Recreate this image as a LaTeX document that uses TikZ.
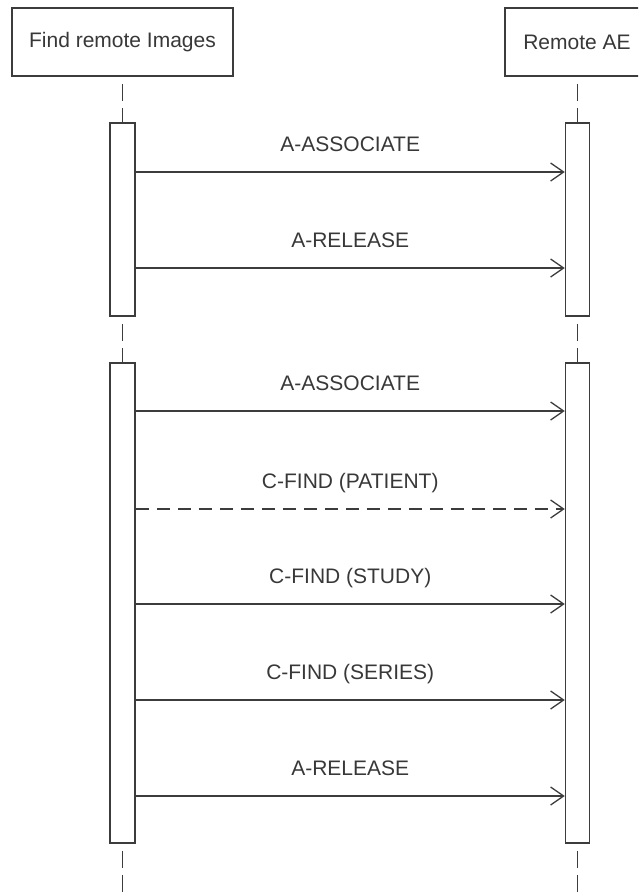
\documentclass[tikz,border=0pt]{standalone}
\usepackage{fontspec}
\setmainfont{Liberation Sans}
\usetikzlibrary{arrows.meta}

\definecolor{linegray}{HTML}{3C3C3C}
\definecolor{textgray}{HTML}{383838}

\begin{document}
\begin{tikzpicture}[x=1pt, y=1pt,
        headbox/.style={rectangle, draw=linegray, line width=1.8pt, fill=white, minimum height=68pt, inner sep=0pt, text=textgray, font=\fontsize{21}{25}\selectfont},
        actbar/.style={rectangle, draw=linegray, line width=1.5pt, fill=white, inner sep=0pt},
        lifeline/.style={draw=linegray, line width=1.9pt, dash pattern=on 17pt off 7pt, dash phase=17pt},
        msg/.style={draw=linegray, line width=1.3pt, -{Straight Barb[length=13pt, width=18pt, line width=1.3pt]}},
        msglabel/.style={anchor=base, yshift=21pt, inner sep=0pt, text=textgray, font=\fontsize{21}{25}\selectfont},
        ]
                \clip (0,0) rectangle (638,-892);

                \node[headbox, minimum width=221pt]  at(122.5,-42) (client) {Find remote Images};
                \node[headbox, minimum width=144pt]  at(577,-42) (remote) {Remote AE};

                \node[actbar, minimum width=25pt, minimum height=193pt]  at(122.5,-219.5) (actL1) {};
                \node[actbar, minimum width=24pt, minimum height=193pt]  at(577.5,-219.5) (actR1) {};
                \node[actbar, minimum width=25pt, minimum height=480pt]  at(122.5,-603) (actL2) {};
                \node[actbar, minimum width=24pt, minimum height=480pt]  at(577.5,-603) (actR2) {};

                \coordinate (endL) at (122.5,-900);
                \coordinate (endR) at (577.5,-900);

                % lifelines
                \draw[lifeline] (client.south)  --  (actL1.north) ;
                \draw[lifeline] (actL1.south)  --  (actL2.north) ;
                \draw[lifeline] (actL2.south)  --  (endL) ;
                \draw[lifeline] (remote.south -| actR1.north)  --  (actR1.north) ;
                \draw[lifeline] (actR1.south)  --  (actR2.north) ;
                \draw[lifeline] (actR2.south)  --  (endR) ;

                \coordinate (m1) at (350,-172);
                \coordinate (m2) at (350,-268);
                \coordinate (m3) at (350,-411);
                \coordinate (m4) at (350,-509);
                \coordinate (m5) at (350,-604);
                \coordinate (m6) at (350,-700);
                \coordinate (m7) at (350,-796);

                % messages
                \draw[msg] (actL1.east |- m1)  --  (actR1.west |- m1) node[msglabel, midway] {A-ASSOCIATE} ;
                \draw[msg] (actL1.east |- m2)  --  (actR1.west |- m2) node[msglabel, midway] {A-RELEASE} ;
                \draw[msg] (actL2.east |- m3)  --  (actR2.west |- m3) node[msglabel, midway] {A-ASSOCIATE} ;
                \draw[msg, dash pattern=on 13pt off 8pt] (actL2.east |- m4)  --  (actR2.west |- m4) node[msglabel, midway] {C-FIND (PATIENT)} ;
                \draw[msg] (actL2.east |- m5)  --  (actR2.west |- m5) node[msglabel, midway] {C-FIND (STUDY)} ;
                \draw[msg] (actL2.east |- m6)  --  (actR2.west |- m6) node[msglabel, midway] {C-FIND (SERIES)} ;
                \draw[msg] (actL2.east |- m7)  --  (actR2.west |- m7) node[msglabel, midway] {A-RELEASE} ;

            \end{tikzpicture}
\end{document}
